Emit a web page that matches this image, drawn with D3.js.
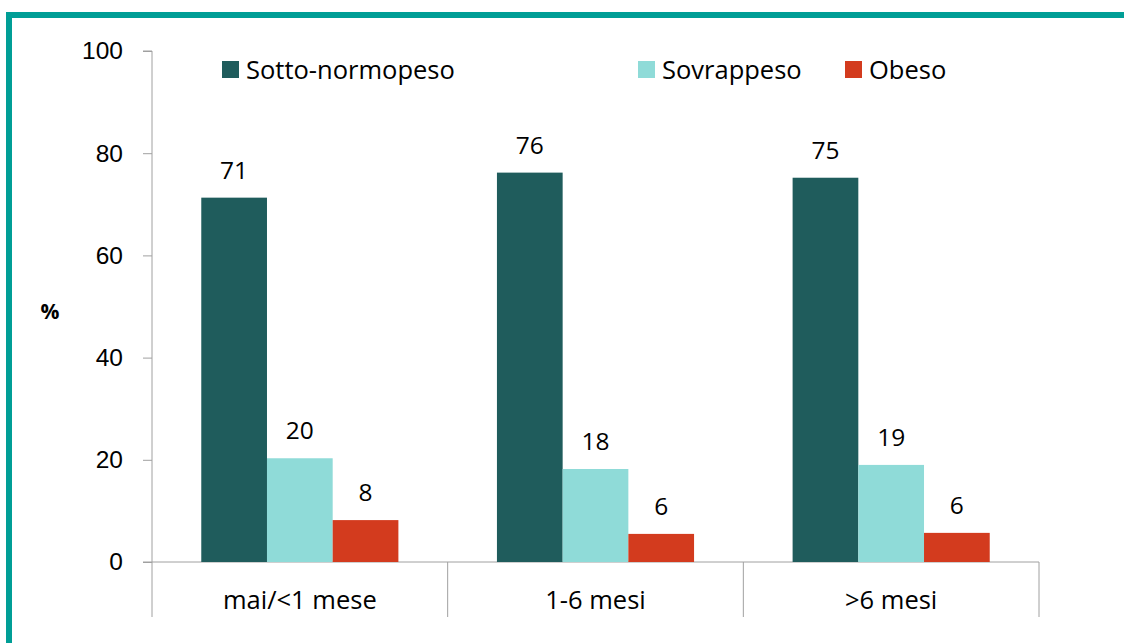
<!DOCTYPE html>
<html>
<head>
<meta charset="utf-8">
<script src="https://cdn.jsdelivr.net/npm/d3@7"></script>
<style>
  body { margin: 0; background: #fff; }
  svg { display: block; font-family: "Open Sans", sans-serif; }
</style>
</head>
<body>
<svg id="chart" width="1124" height="643"></svg>
<script>
// values
const categories = ['mai/<1 mese', '1-6 mesi', '>6 mesi'];
const series = ['Sotto-normopeso', 'Sovrappeso', 'Obeso'];
const sottoNormo = [71.3, 76.2, 75.2];
const sovrappeso = [20.3, 18.2, 19.0];
const obeso = [8.2, 5.5, 5.7];
const yTicks = [0, 20, 40, 60, 80, 100];

const colors = ['#1f5c5c', '#8fdbd8', '#d33b1e'];
const values = [sottoNormo, sovrappeso, obeso];
const fs = 24.5;

const svg = d3.select('#chart');

// teal frame (only top and left edges are visible)
svg.append('rect')
  .attr('x', 9).attr('y', 15)
  .attr('width', 1300).attr('height', 900)
  .attr('fill', 'none')
  .attr('stroke', '#009e96')
  .attr('stroke-width', 6);

const x0 = d3.scaleBand().domain(categories).range([152, 1039]);
const x1 = d3.scaleBand().domain(series).range([0, x0.bandwidth()]).paddingOuter(0.75);
const y = d3.scaleLinear().domain([0, 100]).range([562, 51]);

// y axis
const yAxis = svg.append('g')
  .attr('transform', 'translate(152,0)')
  .call(d3.axisLeft(y).tickValues(yTicks).tickSize(9).tickPadding(20));
yAxis.select('.domain').attr('stroke', '#a0a0a0').attr('d', `M-9,${y(100)}H0V${y(0)}`);
yAxis.selectAll('.tick line').attr('stroke', '#a0a0a0');
yAxis.selectAll('.tick text').attr('font-size', fs).attr('fill', '#000');

// x axis line and category separators
svg.append('line')
  .attr('x1', 143).attr('x2', 1039)
  .attr('y1', y(0)).attr('y2', y(0))
  .attr('stroke', '#a0a0a0');
const seps = categories.map(c => x0(c)).concat([x0(categories[categories.length - 1]) + x0.bandwidth()]);
svg.selectAll('.sep').data(seps).enter().append('line')
  .attr('x1', d => d).attr('x2', d => d)
  .attr('y1', y(0)).attr('y2', 617)
  .attr('stroke', '#a0a0a0');
svg.selectAll('.cat').data(categories).enter().append('text')
  .attr('x', d => x0(d) + x0.bandwidth() / 2)
  .attr('y', 609)
  .attr('text-anchor', 'middle')
  .attr('font-size', 25.5)
  .text(d => d);

// bars
series.forEach((s, si) => {
  const g = svg.append('g');
  g.selectAll('rect').data(values[si]).enter().append('rect')
    .attr('x', (d, i) => x0(categories[i]) + x1(s))
    .attr('y', d => y(d))
    .attr('width', x1.bandwidth())
    .attr('height', d => y(0) - y(d))
    .attr('fill', colors[si]);
  g.selectAll('text').data(values[si]).enter().append('text')
    .attr('x', (d, i) => x0(categories[i]) + x1(s) + x1.bandwidth() / 2)
    .attr('y', d => y(d) - 19)
    .attr('text-anchor', 'middle')
    .attr('font-size', fs)
    .text(d => Math.round(d));
});

// y title
svg.append('text')
  .attr('x', 50).attr('y', 319)
  .attr('text-anchor', 'middle')
  .attr('font-size', 21)
  .attr('font-weight', 'bold')
  .text('%');

// legend
const legendX = [222, 638, 845];
const lg = svg.selectAll('.lg').data(series).enter().append('g')
  .attr('transform', (d, i) => `translate(${legendX[i]},61)`);
lg.append('rect').attr('width', 17).attr('height', 17).attr('fill', (d, i) => colors[i]);
lg.append('text').attr('x', 24).attr('y', 18).attr('font-size', 25.5).text(d => d);
</script>
</body>
</html>
